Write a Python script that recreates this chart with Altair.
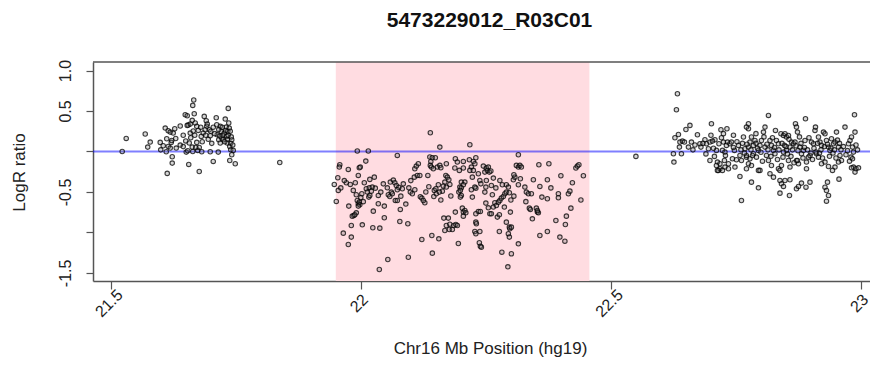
import altair as alt
import pandas as pd

title_text = "5473229012_R03C01"
x_title = "Chr16 Mb Position (hg19)"
y_title = "LogR ratio"
x_ticks = [21.5, 22, 22.5, 23]
y_ticks = [-1.5, -1, -0.5, 0, 0.5, 1]
region_start = 21.95
region_end = 22.457
baseline_value = 0

# (position in Mb, LogR ratio)
left_points = [
    (21.523, 0.0), (21.531, 0.161), (21.569, 0.215), (21.579, 0.116), (21.574, 0.054),
    (21.599, 0.112), (21.609, 0.289), (21.612, 0.157), (21.615, 0.256), (21.619, 0.239),
    (21.621, 0.112), (21.622, 0.136), (21.625, 0.227), (21.628, 0.281), (21.611, -0.004),
    (21.615, 0.062), (21.619, 0.042), (21.623, -0.065), (21.623, -0.144), (21.613, -0.271),
    (21.631, 0.042), (21.639, 0.079), (21.639, 0.314), (21.649, 0.454), (21.653, 0.441),
    (21.655, 0.326), (21.653, 0.322), (21.659, 0.338), (21.663, 0.384), (21.667, 0.466),
    (21.664, 0.569), (21.666, 0.635), (21.669, 0.351), (21.672, 0.310), (21.659, 0.227),
    (21.665, 0.252), (21.651, -0.008), (21.654, 0.009), (21.657, 0.104), (21.663, 0.054),
    (21.656, -0.160), (21.664, 0.0), (21.672, 0.112), (21.674, 0.013), (21.677, 0.050),
    (21.677, -0.247), (21.682, -0.004), (21.681, 0.186), (21.685, 0.227), (21.687, 0.433),
    (21.691, 0.380), (21.692, 0.310), (21.689, 0.268), (21.693, 0.338), (21.699, 0.194),
    (21.697, 0.268), (21.699, -0.004), (21.705, -0.123), (21.711, 0.417), (21.713, 0.206),
    (21.716, 0.145), (21.715, -0.008), (21.719, 0.310), (21.721, 0.248), (21.722, 0.165),
    (21.719, 0.104), (21.725, 0.145), (21.727, 0.227), (21.729, 0.400), (21.731, 0.301),
    (21.732, 0.186), (21.734, 0.248), (21.735, 0.532), (21.736, 0.351), (21.737, 0.289),
    (21.733, 0.104), (21.738, 0.062), (21.740, 0.021), (21.742, 0.145), (21.738, -0.111),
    (21.745, 0.013), (21.742, -0.041), (21.749, -0.152), (21.838, -0.136),
    (21.700, 0.250), (21.705, 0.300), (21.690, 0.200), (21.716, 0.270), (21.724, 0.200),
    (21.733, 0.150), (21.740, 0.100), (21.645, 0.060), (21.660, 0.170),
    (21.605, 0.070), (21.630, 0.160), (21.645, 0.200), (21.650, 0.130), (21.668, 0.200),
    (21.675, 0.260), (21.680, 0.300), (21.683, 0.120), (21.695, 0.150), (21.702, 0.100),
    (21.708, 0.220), (21.712, 0.330), (21.718, 0.190), (21.723, 0.300), (21.728, 0.120),
    (21.730, 0.260), (21.735, 0.200), (21.739, 0.250), (21.741, 0.180), (21.744, 0.080),
    (21.600, 0.020), (21.670, 0.050),
]

cnv_points = [
    (22.139, 0.231), (22.158, 0.054), (21.993, 0.005), (22.015, 0.005), (22.073, -0.049),
    (22.010, -0.119), (21.958, -0.164), (21.957, -0.193), (21.975, -0.222), (21.997, -0.201),
    (21.999, -0.193), (21.954, -0.325), (21.995, -0.296), (22.018, -0.345), (22.027, -0.317),
    (21.947, -0.407), (21.971, -0.387), (21.979, -0.407), (21.989, -0.387), (22.007, -0.387),
    (21.955, -0.481), (21.985, -0.481), (21.991, -0.535), (22.002, -0.523), (22.011, -0.461),
    (22.017, -0.449), (22.023, -0.440), (22.029, -0.453), (22.013, -0.502), (22.021, -0.490),
    (22.016, -0.564), (22.018, -0.543), (22.035, -0.543), (22.040, -0.502), (21.993, -0.605),
    (21.995, -0.646), (21.997, -0.626), (21.998, -0.659), (21.995, -0.675), (21.976, -0.675),
    (21.951, -0.617), (22.025, -0.737), (22.035, -0.646), (22.047, -0.675), (21.991, -0.758),
    (21.986, -0.790), (21.983, -0.799), (21.988, -0.782), (21.981, -0.914), (21.965, -1.009),
    (21.981, -1.058), (21.975, -1.149), (22.003, -0.906), (22.024, -0.943), (22.038, -0.947),
    (22.047, -0.819), (22.037, -1.458), (22.054, -1.334), (22.053, -0.449), (22.059, -0.378),
    (22.065, -0.354), (22.068, -0.387), (22.071, -0.420), (22.076, -0.444), (22.073, -0.473),
    (22.083, -0.461), (22.055, -0.535), (22.058, -0.556), (22.061, -0.502), (22.063, -0.523),
    (22.069, -0.605), (22.073, -0.605), (22.080, -0.552), (22.079, -0.716), (22.090, -0.650),
    (22.078, -0.865), (22.094, -0.893), (22.095, -1.306), (22.096, -0.449), (22.099, -0.502),
    (22.103, -0.523), (22.108, -0.473), (22.107, -0.317), (22.113, -0.296), (22.108, -0.214),
    (22.111, -0.181), (22.115, -0.152), (22.118, -0.296), (22.119, -0.560), (22.122, -0.576),
    (22.128, -0.634), (22.125, -0.605), (22.122, -1.087), (22.134, -0.296), (22.136, -0.436),
    (22.138, -0.069), (22.140, -0.123), (22.143, -0.078), (22.139, -0.172), (22.141, -0.193),
    (22.149, -0.078), (22.145, -0.214), (22.147, -0.481), (22.146, -0.556), (22.151, -0.523),
    (22.155, -0.411), (22.150, -0.461), (22.153, -0.193), (22.158, -0.172), (22.160, -0.201),
    (22.170, -0.296), (22.173, -0.317), (22.168, -0.378), (22.165, -0.428), (22.171, -0.440),
    (22.163, -0.490), (22.157, -0.502), (22.176, -0.350), (22.178, -0.407), (22.171, -0.152),
    (22.189, -0.090), (22.193, -0.131), (22.188, -0.205), (22.197, -0.234), (22.201, -0.378),
    (22.198, -0.440), (22.196, -0.502), (22.201, -0.543), (22.199, -0.564), (22.142, -1.038),
    (22.156, -1.079), (22.143, -1.256), (22.166, -0.823), (22.171, -0.914), (22.175, -0.823),
    (22.178, -0.898), (22.168, -0.976), (22.177, -0.964), (22.183, -0.964), (22.186, -0.914),
    (22.190, -0.902), (22.193, -0.914), (22.195, -1.137), (22.189, -0.749), (22.203, -0.700),
    (22.205, -0.749),
    (22.218, 0.083), (22.315, -0.041), (22.205, -0.123), (22.217, -0.102), (22.225, -0.123),
    (22.230, -0.078), (22.228, -0.152), (22.221, -0.193), (22.218, -0.234), (22.225, -0.234),
    (22.205, -0.205), (22.235, -0.275), (22.223, -0.317), (22.238, -0.358), (22.230, -0.453),
    (22.228, -0.440), (22.221, -0.473), (22.223, -0.564), (22.208, -0.378), (22.205, -0.411),
    (22.201, -0.449), (22.199, -0.481), (22.245, -0.181), (22.248, -0.255), (22.251, -0.205),
    (22.255, -0.193), (22.253, -0.234), (22.257, -0.255), (22.260, -0.242), (22.250, -0.440),
    (22.248, -0.502), (22.251, -0.358), (22.265, -0.329), (22.261, -0.420), (22.208, -0.729),
    (22.210, -0.758), (22.205, -0.799), (22.235, -0.741), (22.230, -0.770), (22.239, -0.741),
    (22.250, -0.638), (22.255, -0.696), (22.258, -0.770), (22.261, -0.770), (22.265, -0.687),
    (22.268, -0.634), (22.271, -0.667), (22.275, -0.626), (22.278, -0.605), (22.281, -0.576),
    (22.285, -0.556), (22.288, -0.523), (22.291, -0.502), (22.273, -0.811), (22.277, -0.782),
    (22.263, -0.535), (22.230, -0.873), (22.231, -0.893), (22.228, -0.988), (22.230, -1.017),
    (22.238, -0.988), (22.237, -1.128), (22.239, -1.170), (22.241, -1.182), (22.277, -0.988),
    (22.287, -0.687), (22.278, -0.358), (22.283, -0.411), (22.291, -0.411), (22.295, -0.440),
    (22.297, -0.510), (22.305, -0.350), (22.308, -0.317), (22.306, -0.288), (22.311, -0.172),
    (22.315, -0.193), (22.318, -0.172), (22.321, -0.193), (22.319, -0.337), (22.315, -0.411),
    (22.291, -0.873), (22.297, -0.935), (22.298, -0.955), (22.301, -0.935), (22.295, -1.017),
    (22.297, -1.058), (22.299, -0.749), (22.306, -0.552), (22.315, -1.141), (22.282, -1.244),
    (22.301, -1.264), (22.294, -1.425), (22.328, -0.440), (22.331, -0.502), (22.335, -0.523),
    (22.341, -0.523), (22.337, -0.700), (22.339, -0.716), (22.343, -0.832), (22.351, -0.700),
    (22.353, -0.749), (22.355, -0.758), (22.353, -0.729), (22.356, -0.164), (22.376, -0.152),
    (22.358, -0.432), (22.362, -0.564), (22.373, -0.584), (22.373, -0.350), (22.358, -1.038),
    (22.373, -0.988), (22.390, -0.852), (22.395, -0.523), (22.395, -0.572), (22.398, -1.058),
    (22.408, -1.108), (22.411, -0.799), (22.409, -0.902), (22.415, -0.523), (22.418, -0.490),
    (22.423, -0.387), (22.430, -0.205), (22.433, -0.181), (22.436, -0.164),
    (21.960, -0.450), (21.967, -0.360), (22.000, -0.570), (22.005, -0.620), (22.045, -0.400),
    (22.085, -0.400), (22.100, -0.360), (22.130, -0.500), (22.160, -0.600), (22.180, -0.550),
    (22.240, -0.400), (22.270, -0.450), (22.300, -0.600), (22.330, -0.620), (22.345, -0.350),
    (22.380, -0.450), (22.400, -0.300), (22.420, -0.700), (22.440, -0.600), (22.445, -0.300),
]

right_points = [
    (22.550, -0.061), (22.633, 0.713), (22.631, 0.515), (22.625, -0.028), (22.626, -0.131),
    (22.628, 0.169), (22.635, 0.210), (22.641, -0.028), (22.637, 0.054), (22.638, 0.116),
    (22.643, 0.128), (22.647, 0.116), (22.650, 0.272), (22.658, 0.322), (22.655, 0.054),
    (22.661, 0.116), (22.673, 0.206), (22.678, 0.095), (22.680, 0.054), (22.688, 0.145),
    (22.691, 0.095), (22.695, 0.033), (22.698, 0.116), (22.701, 0.342), (22.708, 0.145),
    (22.698, -0.111), (22.711, 0.013), (22.713, -0.131), (22.715, -0.234), (22.718, -0.214),
    (22.721, 0.169), (22.725, 0.116), (22.723, 0.013), (22.728, -0.008), (22.729, -0.049),
    (22.731, 0.075), (22.733, 0.116), (22.738, 0.095), (22.741, 0.116), (22.743, -0.090),
    (22.747, 0.013), (22.748, -0.193), (22.751, -0.103), (22.755, 0.075), (22.758, -0.309),
    (22.761, -0.605), (22.765, 0.178), (22.758, -0.049), (22.761, -0.111), (22.768, 0.033),
    (22.771, -0.070), (22.775, 0.281), (22.732, 0.281), (22.720, 0.268), (22.727, -0.111),
    (22.735, -0.152), (22.718, -0.152), (22.728, -0.193), (22.711, -0.173), (22.716, 0.095),
    (22.703, 0.128), (22.707, -0.061), (22.735, -0.214), (22.723, -0.234), (22.713, -0.234),
    (22.775, 0.342), (22.771, 0.301), (22.781, 0.178), (22.778, 0.116), (22.785, 0.075),
    (22.788, 0.136), (22.775, 0.054), (22.771, -0.049), (22.778, -0.090), (22.785, -0.028),
    (22.775, -0.152), (22.771, -0.214), (22.781, -0.173), (22.791, -0.070), (22.795, 0.013),
    (22.798, 0.075), (22.801, 0.136), (22.805, 0.239), (22.808, 0.301), (22.815, 0.445),
    (22.795, -0.234), (22.798, -0.234), (22.781, -0.379), (22.795, -0.449), (22.808, 0.054),
    (22.811, -0.049), (22.815, -0.111), (22.818, 0.136), (22.821, 0.075), (22.825, 0.013),
    (22.828, -0.028), (22.831, 0.136), (22.835, 0.095), (22.829, 0.260), (22.821, -0.173),
    (22.818, -0.276), (22.825, -0.317), (22.835, -0.214), (22.838, -0.234), (22.841, -0.173),
    (22.840, 0.219), (22.845, 0.198), (22.848, 0.219), (22.851, 0.178), (22.855, 0.198),
    (22.847, 0.075), (22.851, 0.013), (22.858, 0.054), (22.861, 0.116), (22.865, 0.095),
    (22.868, 0.116), (22.869, 0.342), (22.871, 0.301), (22.873, 0.239), (22.878, 0.054),
    (22.881, -0.028), (22.885, 0.013), (22.888, 0.136), (22.889, 0.404), (22.891, -0.131),
    (22.895, -0.070), (22.898, -0.049), (22.901, 0.116), (22.905, 0.095), (22.871, -0.111),
    (22.875, -0.152), (22.858, -0.193), (22.855, -0.111), (22.845, -0.008), (22.838, -0.358),
    (22.841, -0.399), (22.845, -0.432), (22.848, -0.358), (22.838, -0.515), (22.858, -0.350),
    (22.857, -0.544), (22.871, -0.461), (22.875, -0.432), (22.881, -0.391), (22.873, -0.111),
    (22.891, -0.214), (22.908, 0.260), (22.909, 0.301), (22.915, 0.178), (22.918, 0.116),
    (22.921, 0.075), (22.925, 0.239), (22.928, 0.219), (22.931, 0.136), (22.935, 0.054),
    (22.938, 0.013), (22.941, 0.157), (22.945, 0.095), (22.948, 0.116), (22.951, 0.239),
    (22.955, 0.054), (22.958, -0.049), (22.961, -0.111), (22.955, -0.131), (22.948, -0.193),
    (22.943, -0.234), (22.935, -0.185), (22.928, -0.131), (22.921, -0.152), (22.915, -0.070),
    (22.911, -0.028), (22.910, -0.008), (22.928, -0.441), (22.931, -0.482), (22.935, -0.544),
    (22.933, -0.379), (22.931, -0.614), (22.956, -0.342), (22.968, 0.301), (22.975, 0.095),
    (22.978, 0.136), (22.981, 0.178), (22.983, 0.054), (22.985, -0.008), (22.980, -0.070),
    (22.983, -0.090), (22.988, 0.239), (22.987, 0.454), (22.985, -0.193), (22.990, -0.214),
    (22.995, -0.202), (22.981, -0.202), (22.988, -0.255), (22.898, -0.379), (22.890, -0.441),
    (22.745, 0.050), (22.752, 0.120), (22.760, 0.020), (22.763, 0.100), (22.767, -0.020),
    (22.772, 0.090), (22.780, 0.020), (22.783, -0.050), (22.790, 0.100), (22.793, 0.040),
    (22.800, -0.010), (22.803, -0.120), (22.806, 0.180), (22.812, 0.090), (22.814, 0.020),
    (22.820, -0.060), (22.823, 0.170), (22.827, 0.050), (22.833, -0.100), (22.836, 0.020),
    (22.842, 0.100), (22.844, -0.070), (22.850, 0.060), (22.853, -0.030), (22.856, 0.150),
    (22.860, -0.060), (22.863, 0.020), (22.866, -0.140), (22.870, 0.070), (22.874, 0.010),
    (22.877, 0.180), (22.880, 0.100), (22.884, -0.080), (22.887, 0.050), (22.893, 0.020),
    (22.896, 0.170), (22.900, -0.020), (22.903, -0.100), (22.906, 0.040), (22.913, 0.100),
    (22.917, -0.020), (22.920, 0.020), (22.923, -0.080), (22.927, 0.060), (22.933, 0.090),
    (22.937, -0.060), (22.940, 0.040), (22.944, -0.020), (22.947, 0.020), (22.950, -0.080),
    (22.953, 0.140), (22.957, 0.100), (22.960, 0.020), (22.965, 0.060), (22.970, -0.040),
    (22.973, 0.010), (22.977, -0.120), (22.990, 0.080), (22.993, 0.020), (22.705, 0.040),
    (22.690, -0.030), (22.684, 0.100), (22.668, 0.080), (22.664, 0.020), (22.700, 0.200),
    (22.725, 0.220), (22.745, 0.200), (22.790, 0.220),
]

points = pd.DataFrame(left_points + cnv_points + right_points, columns=["pos", "logr"])
region = pd.DataFrame({"start": [region_start], "end": [region_end]})
baseline = pd.DataFrame({"logr": [baseline_value]})

W, H = 777, 219
FONT = "Liberation Sans"
x_scale = alt.Scale(domain=[21.4646, 23.018], nice=False, zero=False)
y_scale = alt.Scale(domain=[-1.6, 1.105], nice=False, zero=False)

x_axis = alt.Axis(
    values=x_ticks, title=x_title, labelExpr="toString(datum.value)",
    labelAngle=315, labelAlign="center", labelBaseline="middle",
    labelPadding=14, labelOffset=-2, tickSize=8, labelOverlap=False, labelFlush=False,
    titleX=397, titleY=67, titleAlign="center", titleBaseline="middle",
    titleFontSize=17, titleFontWeight="normal", titleFont=FONT,
)
y_axis = alt.Axis(
    values=y_ticks, title=y_title,
    labelExpr="(datum.value == 0 || datum.value == -1) ? '' : ((datum.value < 0 ? '-' : '') + format(abs(datum.value), '.1f'))",
    labelAngle=270, labelAlign="center", labelBaseline="alphabetic",
    labelPadding=16, tickSize=7, labelOverlap=False, labelFlush=False,
    titleX=-74, titleY=110, titleAngle=270, titleAlign="center", titleBaseline="middle",
    titleFontSize=17, titleFontWeight="normal", titleFont=FONT,
)

rect = alt.Chart(region).mark_rect(color="#ffdce1").encode(
    x=alt.X("start:Q", scale=x_scale, axis=x_axis, title=x_title),
    x2="end:Q",
    y=alt.value(0),
    y2=alt.value(H),
)

top_border = alt.Chart(region).mark_rule(color="#555", strokeWidth=1.5).encode(
    x=alt.value(0), x2=alt.value(W), y=alt.value(0)
)

zero_line = alt.Chart(baseline).mark_rule(color="blue", opacity=0.5, strokeWidth=2).encode(
    y=alt.Y("logr:Q", scale=y_scale, axis=y_axis, title=y_title),
    x=alt.value(0), x2=alt.value(W),
)

pts = alt.Chart(points).mark_point(
    shape="circle", filled=True, fill="#777", fillOpacity=0.3,
    stroke="#000", strokeOpacity=0.75, strokeWidth=1.1, size=20,
).encode(
    x=alt.X("pos:Q", scale=x_scale, axis=x_axis, title=x_title),
    y=alt.Y("logr:Q", scale=y_scale, axis=y_axis, title=y_title),
)

chart = alt.layer(rect, top_border, zero_line, pts).properties(
    width=W, height=H,
    title=alt.TitleParams(title_text, font=FONT, fontSize=21, fontWeight="bold",
                          anchor="middle", offset=28, dx=8, color="#111"),
    autosize=alt.AutoSizeParams(type="none"),
    padding={"left": 85, "top": 54, "right": 0, "bottom": 79},
).configure_view(stroke=None).configure_axis(
    domainColor="#555", domainWidth=1.5, tickColor="#555", tickWidth=1.2,
    labelFont=FONT, labelFontSize=16, labelColor="#222", titleColor="#222", grid=False,
)

chart.save("out.html", embed_options={"renderer": "svg", "actions": False})
